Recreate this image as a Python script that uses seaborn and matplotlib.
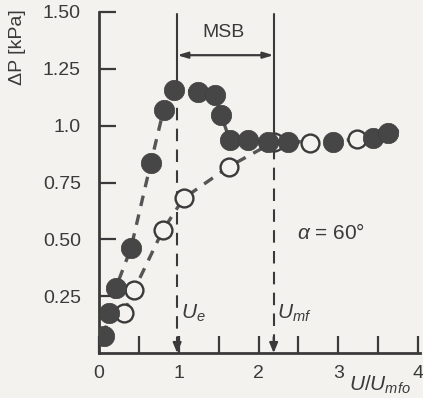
import matplotlib
matplotlib.use("Agg")
import matplotlib.pyplot as plt
import seaborn as sns
import pandas as pd

# ---- data ----
filled_x = [0.06, 0.13, 0.21, 0.40, 0.65, 0.81, 0.94, 1.24, 1.46, 1.53, 1.64, 1.87, 2.12, 2.37, 2.93, 3.44, 3.63]
filled_y = [0.075, 0.176, 0.286, 0.46, 0.836, 1.07, 1.157, 1.15, 1.135, 1.047, 0.937, 0.935, 0.93, 0.93, 0.93, 0.947, 0.968]
open_x = [0.31, 0.44, 0.80, 1.06, 1.63, 2.20, 2.65, 3.24]
open_y = [0.176, 0.277, 0.54, 0.68, 0.82, 0.93, 0.925, 0.94]
tail_x = [3.63, 3.85]
tail_y = [0.968, 0.985]

x_ticks = [0, 1, 2, 3, 4]
x_tick_labels = ["0", "1", "2", "3", "4"]
x_minor = [0.5, 1.5, 2.5, 3.5]
y_ticks = [0.25, 0.50, 0.75, 1.0, 1.25, 1.50]
y_tick_labels = ["0.25", "0.50", "0.75", "1.0", "1.25", "1.50"]

U_e = 0.98
U_mf = 2.19

BG = "#f3f2ee"
INK = "#3a3a3a"
LINE = "#555555"

sns.set_style("ticks")
plt.rcParams["font.family"] = ["Liberation Sans", "DejaVu Sans"]
plt.rcParams["mathtext.fontset"] = "custom"
plt.rcParams["mathtext.rm"] = "Liberation Sans"
plt.rcParams["mathtext.it"] = "Liberation Sans:italic"

fig = plt.figure(figsize=(4.23, 3.98), dpi=100, facecolor=BG)
ax = fig.add_axes([99 / 423, 45 / 398, 319 / 423, 341 / 398])
ax.set_facecolor(BG)

df_f = pd.DataFrame({"x": filled_x, "y": filled_y})
df_o = pd.DataFrame({"x": open_x, "y": open_y})
df_t = pd.DataFrame({"x": tail_x, "y": tail_y})

dash = (0, (3.2, 2.6))
for d in (df_f, df_o, df_t):
    sns.lineplot(data=d, x="x", y="y", sort=False, ax=ax, color=LINE, lw=2.4,
                 linestyle=dash, zorder=2, estimator=None)

sns.scatterplot(data=df_o, x="x", y="y", ax=ax, s=165, marker="o",
                facecolor=BG, edgecolor=INK, linewidth=1.7, zorder=3)
sns.scatterplot(data=df_f, x="x", y="y", ax=ax, s=215, marker="o",
                color="#464646", edgecolor="#3e3e3e", linewidth=0.5, zorder=4)

# vertical markers for U_e and U_mf
for xv, ytop_solid in [(U_e, 1.17), (U_mf, 1.0)]:
    ax.plot([xv, xv], [1.49, ytop_solid], color=INK, lw=1.5, zorder=1)
    ax.plot([xv, xv], [ytop_solid, 0.03], color=INK, lw=1.5,
            linestyle=(0, (6, 4)), zorder=1)
    ax.annotate("", xy=(xv, 0.0), xytext=(xv, 0.07),
                arrowprops=dict(arrowstyle="-|>,head_length=0.6,head_width=0.25",
                                color=INK, lw=1.5, shrinkA=0, shrinkB=0))

# MSB double arrow
ax.annotate("", xy=(U_e, 1.31), xytext=(U_mf, 1.31),
            arrowprops=dict(arrowstyle="<|-|>,head_length=0.6,head_width=0.18",
                            color=INK, lw=1.6, shrinkA=0, shrinkB=0))
ax.text((U_e + U_mf) / 2 - 0.02, 1.41, "MSB", ha="center", va="center",
        fontsize=14, color=INK)

ax.text(1.03, 0.175, r"$U_e$", ha="left", va="center", fontsize=15, color=INK)
ax.text(2.23, 0.175, r"$U_{mf}$", ha="left", va="center", fontsize=15, color=INK)
ax.text(2.48, 0.528, r"$\alpha$ = 60°", ha="left", va="center", fontsize=15, color=INK)

ax.set_xlim(0, 4.0)
ax.set_ylim(0, 1.5)
ax.set_xticks(x_ticks)
ax.set_xticklabels(x_tick_labels)
ax.set_xticks(x_minor, minor=True)
ax.set_yticks(y_ticks)
ax.set_yticklabels(y_tick_labels)
ax.set_xlabel("")
ax.set_ylabel("")
ax.tick_params(axis="both", which="both", direction="in", length=12, width=1.6,
               colors=INK, labelsize=14, labelcolor=INK)
ax.tick_params(axis="y", pad=13)
ax.tick_params(axis="x", pad=9)
sns.despine(ax=ax)
for s in ["left", "bottom"]:
    ax.spines[s].set_linewidth(2.0)
    ax.spines[s].set_color(INK)
ax.spines["bottom"].set_bounds(0, 4.03)

fig.text(17 / 423, 1 - 47 / 398, "ΔP [kPa]", rotation=90, ha="center",
         va="center", fontsize=14, color=INK)
fig.text(349 / 423, 1 - 385 / 398, r"$U/U_{mfo}$", ha="left", va="center",
         fontsize=15, color=INK)

fig.savefig("out.png", dpi=100, facecolor=BG)
